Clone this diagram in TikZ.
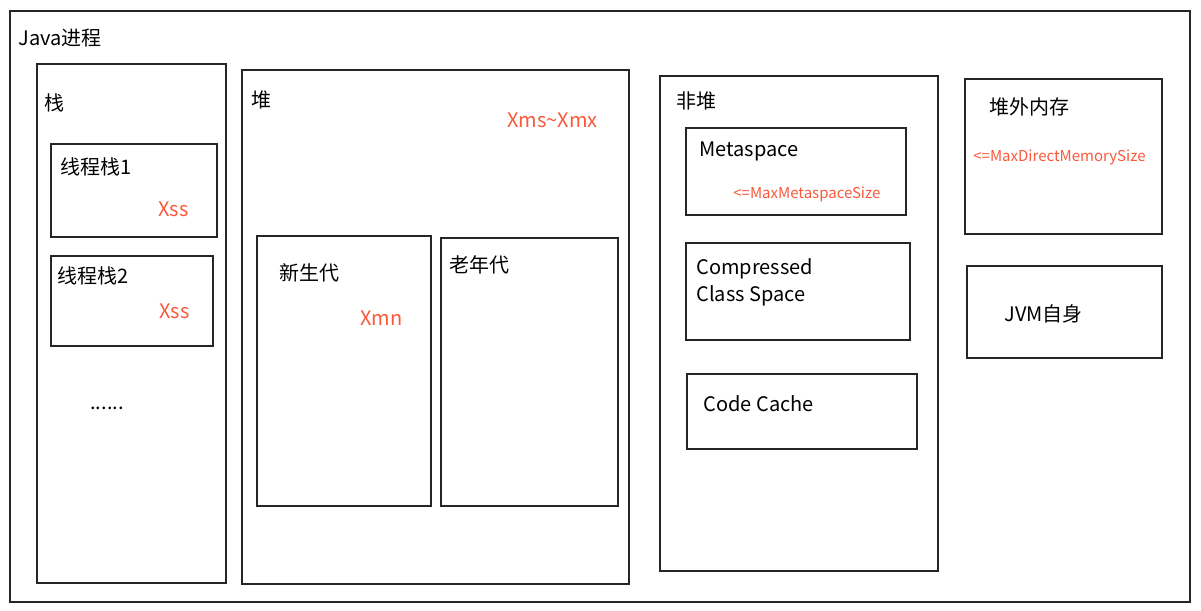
\documentclass[tikz,border=0pt]{standalone}
\usepackage{fontspec}
\setmainfont{Noto Sans CJK SC}
\usepackage{xcolor}
\definecolor{memred}{RGB}{250,88,58}
\tikzset{
  box/.style={draw=black!85, line width=0.7pt},
  lbl/.style={anchor=west, inner sep=0pt, font=\fontsize{10pt}{12pt}\selectfont},
  lim/.style={lbl, text=memred},
  limsmall/.style={anchor=west, inner sep=0pt, text=memred, font=\fontsize{7.5pt}{9pt}\selectfont}
}
\begin{document}
\begin{tikzpicture}[x=0.5pt, y=-0.5pt]
	\useasboundingbox (0,0) rectangle (1201,611);
%	process frame
	\draw [box] (10,11) rectangle (1190,602);
	\node [lbl] (java) at (18,38) {Java进程};
%	stack
	\draw [box] (37,64) rectangle (226,583);
	\node [lbl] (stack) at (44,103) {栈};
	\draw [box] (51,144) rectangle (217,237);
	\node [lbl] (ts1) at (60,167) {线程栈1};
	\node [lim] (xss1) at (158,209) {Xss};
	\draw [box] (51,256) rectangle (213,346);
	\node [lbl] (ts2) at (57,276) {线程栈2};
	\node [lim] (xss2) at (159,311) {Xss};
	\node [lbl] (dots) at (90,408) {......};
%	heap
	\draw [box] (242,70) rectangle (629,584);
	\node [lbl] (heap) at (251,100) {堆};
	\node [lim] (xmx) at (507,120) {Xms\textasciitilde Xmx};
	\draw [box] (257,236) rectangle (431,506);
	\node [lbl] (young) at (279,273) {新生代};
	\node [lim] (xmn) at (360,318) {Xmn};
	\draw [box] (441,238) rectangle (618,506);
	\node [lbl] (old) at (449,265) {老年代};
%	non-heap
	\draw [box] (660,76) rectangle (938,571);
	\node [lbl] (nonheap) at (676,101) {非堆};
	\draw [box] (686,128) rectangle (906,215);
	\node [lbl] (meta) at (699,151) {Metaspace};
	\node [limsmall] (maxmeta) at (733,194) {<=MaxMetaspaceSize};
	\draw [box] (686,243) rectangle (910,340);
	\node [lbl, align=left, font=\fontsize{10pt}{13.5pt}\selectfont] (ccs) at (696,282) {Compressed\\Class Space};
	\draw [box] (687,374) rectangle (917,449);
	\node [lbl] (cache) at (703,404) {Code Cache};
%	off-heap
	\draw [box] (965,79) rectangle (1162,234);
	\node [lbl] (direct) at (989,107) {堆外内存};
	\node [limsmall] (maxdirect) at (973,157) {<=MaxDirectMemorySize};
	\draw [box] (967,266) rectangle (1162,358);
	\node [lbl] (jvm) at (1004,314) {JVM自身};
\end{tikzpicture}
\end{document}
